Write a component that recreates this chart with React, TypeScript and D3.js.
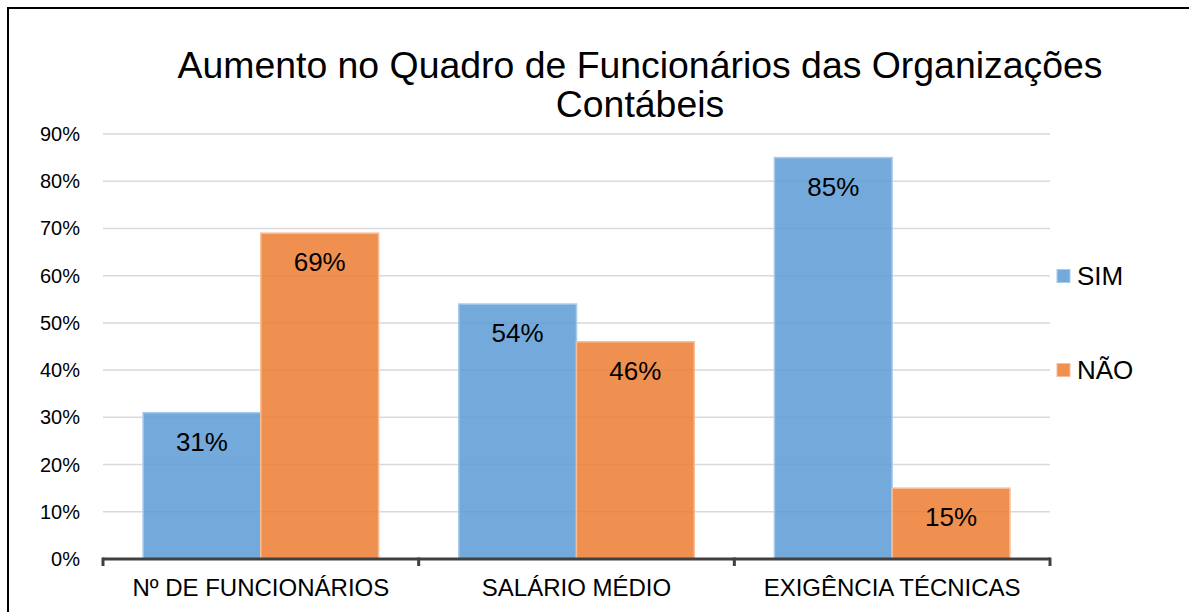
import React, { useEffect, useRef } from "react";
import * as d3 from "d3";

const categories = ["Nº DE FUNCIONÁRIOS", "SALÁRIO MÉDIO", "EXIGÊNCIA TÉCNICAS"];
const seriesNames = ["SIM", "NÃO"];
const simValues = [31, 54, 85];
const naoValues = [69, 46, 15];
const yTicks = [0, 10, 20, 30, 40, 50, 60, 70, 80, 90];
const titleLines = ["Aumento no Quadro de Funcionários das Organizações", "Contábeis"];

const fills = ["#5B9BD5", "#ED7D31"];
const strokes = ["#A9CBEB", "#F6BE98"];

export default function App() {
  const svgRef = useRef<SVGSVGElement>(null);

  useEffect(() => {
    document.body.style.margin = "0";
    document.body.style.overflow = "hidden";
    const W = 1189, H = 612;
    const margin = { top: 134, right: 139, bottom: 53, left: 103 };
    const w = W - margin.left - margin.right;
    const h = H - margin.top - margin.bottom;
    const font = "'Liberation Sans', Arial, sans-serif";

    const svg = d3.select(svgRef.current!);
    svg.selectAll("*").remove();
    svg.attr("width", W).attr("height", H).style("font-family", font);

    svg.append("rect").attr("width", W).attr("height", H).attr("fill", "#fff");

    // chart frame (right and bottom edges fall outside the crop)
    svg.append("rect")
      .attr("x", 8).attr("y", 8).attr("width", W + 20).attr("height", H + 20)
      .attr("fill", "none").attr("stroke", "#000").attr("stroke-width", 2);

    // title
    svg.append("g").selectAll("text").data(titleLines).join("text")
      .attr("x", 640).attr("y", (d, i) => 78 + i * 39)
      .attr("text-anchor", "middle").attr("font-size", 37.4).attr("fill", "#000")
      .text(d => d);

    const g = svg.append("g").attr("transform", `translate(${margin.left},${margin.top})`);

    const x0 = d3.scaleBand().domain(categories).range([0, w]).paddingInner(0).paddingOuter(0);
    const x1 = d3.scaleBand().domain(seriesNames).range([0, x0.bandwidth()]).paddingInner(0).paddingOuter(0.34);
    const y = d3.scaleLinear().domain([0, 90]).range([h, 0]);

    // gridlines
    g.append("g").selectAll("line").data(yTicks.filter(t => t > 0)).join("line")
      .attr("x1", 0).attr("x2", w)
      .attr("y1", d => y(d)).attr("y2", d => y(d))
      .attr("stroke", "#d9d9d9").attr("stroke-width", 1.5);

    // y labels
    g.append("g").selectAll("text").data(yTicks).join("text")
      .attr("x", -23).attr("y", d => y(d)).attr("dy", "0.35em")
      .attr("text-anchor", "end").attr("font-size", 20).attr("fill", "#000")
      .text(d => `${d}%`);

    const series = [simValues, naoValues];
    series.forEach((vals, si) => {
      const sg = g.append("g");
      sg.selectAll("rect").data(vals).join("rect")
        .attr("x", (d, i) => x0(categories[i])! + x1(seriesNames[si])!)
        .attr("y", d => y(d))
        .attr("width", x1.bandwidth())
        .attr("height", d => h - y(d))
        .attr("fill", fills[si]).attr("fill-opacity", 0.85)
        .attr("stroke", strokes[si]).attr("stroke-width", 1.5);
      sg.selectAll("text").data(vals).join("text")
        .attr("x", (d, i) => x0(categories[i])! + x1(seriesNames[si])! + x1.bandwidth() / 2)
        .attr("y", d => y(d) + 38)
        .attr("text-anchor", "middle").attr("font-size", 26).attr("fill", "#000")
        .text(d => `${d}%`);
    });

    // x axis
    const ax = g.append("g").attr("transform", `translate(0,${h})`);
    ax.append("line").attr("x1", 0).attr("x2", w).attr("stroke", "#404040").attr("stroke-width", 3);
    const bounds = [...categories.map(c => x0(c)!), w];
    ax.selectAll("line.tick").data(bounds).join("line").attr("class", "tick")
      .attr("x1", d => d).attr("x2", d => d).attr("y1", -1.5).attr("y2", 7)
      .attr("stroke", "#404040").attr("stroke-width", 3);
    ax.selectAll("text").data(categories).join("text")
      .attr("x", d => x0(d)! + x0.bandwidth() / 2).attr("y", 37)
      .attr("text-anchor", "middle").attr("font-size", 24).attr("fill", "#000")
      .text(d => d);

    // legend
    const lg = svg.append("g").selectAll("g").data(seriesNames).join("g")
      .attr("transform", (d, i) => `translate(1057,${276 + i * 94})`);
    lg.append("rect").attr("x", 0).attr("y", -6.5).attr("width", 13).attr("height", 13)
      .attr("fill", (d, i) => fills[i]).attr("fill-opacity", 0.85)
      .attr("stroke", (d, i) => strokes[i]).attr("stroke-width", 1);
    lg.append("text").attr("x", 20).attr("dy", "0.35em")
      .attr("font-size", 26).attr("fill", "#000").text(d => d);
  }, []);

  return <svg ref={svgRef} style={{ display: "block" }} />;
}
